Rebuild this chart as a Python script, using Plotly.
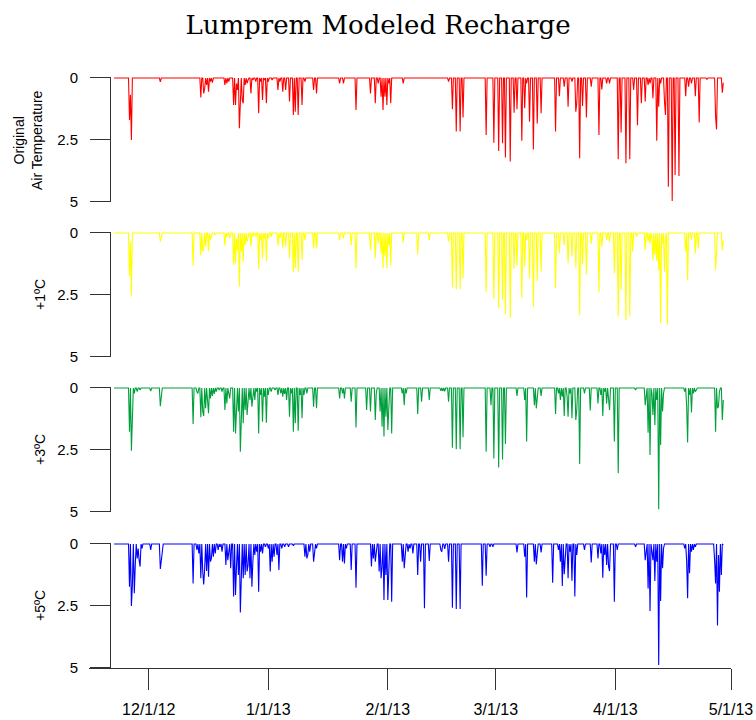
import plotly.graph_objects as go
from datetime import datetime, timedelta

# ---------------- data (day offsets from 2012-11-22, recharge values) ----------------
start_date = "2012-11-22"
end_day = 158

orig_days = [4.0, 4.25, 4.5, 12.0, 22.5, 23.25, 23.5, 24.0, 24.5, 25.0, 25.5, 28.75, 29.25, 29.75,
             31.0, 31.5, 31.75, 32.0, 32.5, 32.75, 33.25, 33.5, 34.0, 34.5, 34.75, 35.5, 36.0, 36.75,
             37.5, 38.0, 38.5, 39.0, 39.5, 40.0, 41.0, 42.5, 43.0, 43.75, 44.5, 45.5, 46.5, 47.0,
             47.75, 48.75, 49.5, 51.75, 52.5, 58.5, 59.5, 62.75, 66.5, 67.75, 68.5, 69.25, 69.75,
             70.25, 70.75, 71.25, 71.75, 75.0,
             86.75, 87.75, 88.75, 89.75, 90.5, 96.5, 98.5, 99.75, 100.75, 101.5, 102.75, 103.75,
             104.5, 105.75, 106.5, 107.0, 107.75, 108.75, 109.75, 110.75, 114.5, 115.5, 116.75,
             117.75, 118.75, 119.75, 120.0, 120.75, 121.5, 122.5, 123.75, 125.75, 126.5, 127.75,
             128.5, 130.75, 131.5, 132.75, 133.75, 134.75, 135.75, 136.75, 137.75, 138.5, 139.0,
             139.75, 140.75, 141.25, 141.75, 142.75, 143.0, 143.75, 144.75, 145.5, 146.5, 148.25,
             149.0, 149.75, 150.75, 151.75, 153.75, 156.0, 156.25, 157.75, 158.0]
orig_vals = [1.69, 0.68, 2.5, 0.16, 0.78, 0.62, 0.42, 0.28, 0.55, 0.15, 0.19, 0.28, 0.22, 0.15,
             1.09, 1.09, 0.22, 0.48, 2.03, 0.62, 0.89, 1.02, 0.28, 0.22, 0.08, 0.62, 0.08, 0.15,
             1.42, 0.15, 0.89, 0.08, 1.02, 0.15, 0.08, 0.48, 0.15, 0.55, 0.48, 0.95, 1.49, 1.36,
             1.49, 1.09, 0.15, 0.48, 0.62, 0.22, 0.22, 1.29, 0.62, 1.02, 0.22, 0.75, 1.29,
             0.75, 1.09, 0.22, 1.02, 0.22,
             0.15, 1.26, 2.16, 2.16, 1.59, 2.30, 2.61, 2.94, 2.63, 3.21, 3.37, 1.40,
             1.26, 2.53, 1.22, 0.22, 1.76, 2.88, 1.83, 1.42, 2.16, 0.73, 0.35,
             1.16, 0.15, 1.36, 1.02, 3.24, 1.13, 1.59, 0.35, 2.30, 0.46, 0.22,
             0.22, 3.28, 2.20, 3.44, 3.28, 0.48, 1.90, 1.02, 0.95, 0.28, 0.22,
             0.82, 2.53, 1.16, 0.22, 0.95, 1.49, 4.38, 4.96, 3.91, 3.95, 0.73,
             0.35, 0.22, 0.73, 1.79, 0.05, 1.56, 2.07, 0.59, 0.19]

p1_days = [4.0, 4.25, 4.5, 12.0, 12.25, 20.5, 22.5, 23.0, 23.25, 23.75, 24.5, 25.0, 25.25, 26.25,
           28.75, 29.25, 30.0, 31.0, 31.5, 31.75, 32.0, 32.5, 33.0, 33.5, 34.0, 34.5, 34.75, 35.5,
           36.0, 36.75, 37.5, 38.0, 38.5, 39.0, 39.5, 40.0, 40.75, 42.5, 43.0, 43.75, 44.5, 45.5,
           46.5, 47.0, 47.75, 48.75, 49.5, 51.75, 52.5, 58.5, 59.5, 61.5, 62.75, 66.5, 67.75, 68.5,
           69.25, 69.75, 70.25, 70.75, 71.25, 71.75, 75.0,
           78.75, 81.75, 86.75, 87.75, 88.75, 89.75, 90.5, 96.5, 98.5, 99.75, 100.75, 101.5,
           102.75, 103.75, 104.5, 105.75, 106.5, 107.0, 107.75, 108.75, 109.75, 110.75, 114.5,
           115.5, 116.75, 117.75, 118.75, 119.75, 120.75, 121.5, 122.5, 123.75, 125.75, 126.5,
           127.75, 128.5, 129.75, 130.75, 131.5, 132.75, 133.75, 134.5, 135.5, 137.75, 138.5,
           139.0, 139.5, 139.75, 140.25, 140.75, 141.25, 141.75, 142.25, 142.75, 143.0, 143.5,
           148.25, 148.75, 149.75, 150.75, 151.5, 156.0, 156.25, 157.75, 158.0]
p1_vals = [1.72, 0.35, 2.53, 0.35, 0.15, 1.32, 0.91, 0.75, 0.65, 0.55, 0.73, 0.28, 0.15, 0.08,
           0.51, 0.15, 0.22, 1.29, 1.22, 0.22, 0.69, 2.16, 0.75, 1.16, 0.48, 0.35, 0.22, 0.55,
           0.15, 0.15, 1.45, 0.28, 1.02, 0.22, 1.13, 0.22, 0.15, 0.51, 0.22, 0.59, 0.55, 1.02,
           1.59, 1.42, 1.56, 1.09, 0.28, 0.62, 0.62, 0.28, 0.22, 0.48, 1.42, 0.69, 1.02, 0.42,
           0.82, 1.42, 0.95, 1.42, 0.48, 1.29, 0.38,
           0.86, 0.28, 0.35, 2.20, 2.27, 2.27, 1.83, 2.37, 2.66, 3.04, 2.70, 3.28,
           3.44, 1.45, 1.32, 2.61, 1.36, 0.28, 1.83, 2.98, 1.94, 1.56, 2.23,
           0.82, 0.48, 1.22, 0.95, 1.40, 3.33, 1.26, 1.67, 0.44, 2.37, 0.55,
           0.28, 0.35, 1.63, 3.37, 2.30, 3.51, 3.37, 0.75, 0.15, 0.69, 0.35,
           0.42, 0.22, 1.09, 0.89, 1.13, 1.49, 3.64, 0.42, 1.56, 0.22, 3.71,
           0.75, 1.90, 0.28, 0.82, 0.62, 1.49, 0.89, 0.69, 0.30]

p3_days = [4.0, 4.5, 4.75, 5.25, 6.0, 6.75, 9.5, 12.0, 12.25, 20.5, 21.5, 21.75, 22.5, 23.0, 23.25,
           23.75, 24.25, 24.5, 25.0, 25.5, 26.0, 26.5, 27.25, 28.0, 28.75, 29.25, 29.75, 30.0,
           31.0, 31.5, 31.75, 32.25, 32.75, 33.0, 33.5, 34.0, 34.5, 34.75, 35.25, 35.75, 36.0,
           36.5, 37.0, 37.5, 38.0, 38.5, 39.0, 39.5, 40.0, 40.75, 41.75, 42.5, 43.25, 43.75,
           44.25, 44.75, 45.5, 46.0, 46.5, 47.0, 47.75, 48.25, 48.75, 49.25, 50.0, 51.75, 52.5,
           58.5, 59.25, 59.75, 61.5, 62.75, 65.5, 66.5, 67.75, 68.0, 69.0, 69.5, 70.0, 70.5,
           71.0, 71.25, 72.0, 74.75, 75.25, 75.75,
           78.75, 79.75, 81.75, 84.75, 85.25, 85.75, 86.75, 87.75, 88.75, 89.75, 90.5, 96.5,
           97.75, 98.5, 99.75, 100.75, 101.5, 104.5, 106.5, 107.0, 109.0, 109.5, 109.75, 110.75,
           114.5, 115.25, 115.75, 116.25, 116.75, 117.5, 117.75, 118.25, 118.75, 119.75, 120.0,
           120.75, 122.0, 123.5, 125.5, 126.25, 126.75, 127.25, 127.75, 128.25, 128.5, 129.75,
           130.75, 135.25, 137.75, 138.0, 138.5, 139.0, 139.5, 139.75, 140.25, 140.75, 141.25,
           141.75, 142.25, 142.5, 148.0, 148.5, 148.75, 149.25, 149.75, 150.25, 150.75, 151.0,
           156.0, 156.5, 156.75, 157.0, 157.75, 158.0]
p3_vals = [1.76, 2.53, 1.16, 0.22, 0.15, 0.08, 0.12, 0.73, 0.35, 1.45, 0.15, 0.22, 1.18, 0.95, 1.13,
           0.82, 0.75, 1.02, 0.42, 0.32, 0.24, 0.15, 0.08, 0.15, 0.89, 0.62, 0.22, 0.42,
           1.76, 1.83, 0.69, 0.95, 2.57, 1.02, 1.42, 0.89, 1.09, 0.69, 0.48, 0.75, 0.28,
           0.48, 0.15, 1.83, 0.28, 1.36, 0.35, 1.40, 0.28, 0.15, 0.08, 0.28, 0.22, 0.35,
           0.24, 0.48, 1.16, 0.22, 1.76, 1.42, 1.72, 0.28, 1.22, 0.28, 0.22, 0.75, 0.82,
           0.42, 0.22, 0.42, 0.55, 1.59, 0.89, 0.95, 1.29, 0.22, 0.95, 1.56, 1.96, 1.16,
           1.69, 0.48, 1.83, 0.22, 0.69, 0.22,
           1.05, 0.55, 0.48, 0.11, 0.12, 0.13, 0.55, 2.41, 2.47, 2.47, 1.99, 2.57,
           0.69, 2.84, 3.21, 2.88, 2.26, 0.32, 0.48, 2.16, 0.69, 0.82, 0.35, 0.32,
           1.05, 0.22, 0.48, 0.35, 1.13, 0.35, 1.16, 0.22, 1.22, 1.29, 0.89,
           3.06, 0.22, 0.91, 0.62, 0.28, 1.13, 0.15, 0.62, 0.55, 0.89, 2.16,
           3.44, 0.08, 0.69, 0.22, 1.80, 2.70, 0.22, 1.09, 1.49, 0.48, 4.89,
           2.30, 0.95, 0.22, 0.15, 0.75, 2.20, 0.28, 0.99, 0.22, 0.15, 0.08,
           1.76, 0.82, 0.75, 0.15, 1.29, 0.48]

p5_days = [4.0, 4.5, 4.75, 5.25, 5.5, 6.0, 6.25, 6.5, 6.75, 7.25, 9.5, 12.0, 12.25, 12.5, 20.5,
           21.5, 22.0, 22.5, 23.0, 23.25, 23.5, 24.0, 24.5, 25.0, 25.25, 25.75, 26.25, 27.0, 27.5,
           28.0, 29.0, 29.5, 29.75, 30.25, 31.0, 31.5, 31.75, 32.25, 32.75, 33.0, 33.5, 34.0,
           34.5, 34.75, 35.25, 35.75, 36.0, 36.5, 37.0, 37.5, 38.0, 38.5, 39.25, 40.0, 40.5,
           41.0, 41.5, 42.25, 42.75, 43.5, 44.25, 45.25, 46.5, 49.5, 50.0, 50.25, 50.75, 51.75,
           52.0, 52.5, 58.5, 59.25, 59.75, 60.25, 61.5, 62.75, 66.75, 67.25, 67.75, 68.0, 68.75,
           69.25, 69.5, 70.0, 70.5, 71.0, 71.25, 72.0, 74.75, 75.25, 75.5, 76.25, 76.75,
           77.5, 78.75, 79.5, 80.5, 81.75, 84.75, 85.0, 85.75, 86.75, 87.75, 88.75, 89.75,
           95.5, 96.5, 97.5, 98.25, 104.5, 106.5, 107.0, 109.0, 109.5, 109.75, 110.75, 113.75,
           115.25, 115.75, 116.25, 116.75, 117.0, 117.75, 118.25, 118.75, 119.5, 120.0, 122.0,
           123.75, 125.5, 126.25, 126.75, 127.25, 127.75, 128.25, 128.5, 129.75, 130.5, 135.25,
           137.75, 138.0, 138.5, 139.0, 139.5, 139.75, 140.25, 140.75, 141.25, 141.75, 142.25,
           142.5, 148.0, 148.5, 148.75, 149.25, 149.75, 150.25, 150.75, 155.75, 156.0, 156.5,
           156.75, 157.0, 157.5, 158.0]
p5_vals = [1.72, 2.50, 1.65, 1.99, 0.85, 0.58, 0.18, 0.65, 0.91, 0.18, 0.24, 1.01, 0.58, 0.18, 1.59,
           0.24, 0.38, 1.38, 1.11, 1.63, 0.98, 1.09, 1.32, 0.71, 0.58, 0.51, 0.38, 0.24, 0.11,
           0.31, 0.85, 0.65, 0.31, 0.98, 2.12, 2.06, 0.91, 1.25, 2.76, 1.11, 1.38, 1.25,
           1.11, 0.85, 1.38, 1.72, 0.71, 0.44, 0.31, 1.92, 0.31, 0.38, 0.11, 0.18, 1.11,
           0.71, 0.51, 0.44, 1.05, 0.18, 0.11, 0.11, 0.07, 0.51, 0.58, 0.44, 0.31, 0.71,
           0.31, 0.18, 0.65, 0.71, 0.78, 0.18, 1.05, 1.76, 0.91, 0.58, 0.71, 0.38, 1.11,
           1.38, 0.91, 2.26, 1.25, 2.26, 0.78, 2.33, 0.71, 0.98, 0.51, 0.31, 0.18,
           0.38, 1.25, 0.71, 2.59, 0.68, 0.24, 0.31, 0.20, 0.71, 2.57, 2.62, 2.62,
           1.68, 1.28, 0.11, 0.11, 0.34, 0.51, 2.16, 0.71, 0.82, 0.31, 0.34, 1.56,
           0.24, 0.71, 1.69, 1.22, 0.44, 1.38, 0.31, 1.48, 2.12, 0.44, 0.24,
           0.74, 0.58, 0.38, 1.36, 0.44, 0.85, 0.91, 1.09, 2.33, 0.24, 0.11,
           0.65, 0.24, 1.79, 2.70, 0.31, 0.65, 1.49, 0.71, 4.88, 2.30, 0.98,
           0.18, 0.18, 0.71, 2.19, 1.18, 0.31, 0.24, 0.11, 0.65, 1.59, 3.29,
           0.44, 1.92, 1.25, 0.04]

tick_vals_x = ["2012-12-01", "2013-01-01", "2013-02-01", "2013-03-01", "2013-04-01", "2013-05-01"]
tick_text_x = ["12/1/12", "1/1/13", "2/1/13", "3/1/13", "4/1/13", "5/1/13"]
tick_vals_y = [0, 2.5, 5]
tick_text_y = ["0", "2.5", "5"]

panel_labels = ["Original<br>Air Temperature", "+1ºC", "+3ºC", "+5ºC"]
series = [(orig_days, orig_vals), (p1_days, p1_vals), (p3_days, p3_vals), (p5_days, p5_vals)]
colors = ["#FF0000", "#FFFF00", "#00A03C", "#0000FF"]
title_text = "Lumprem Modeled Recharge"

# ---------------- build 6-hourly series ----------------
steps_per_day = 4
t0 = datetime.strptime(start_date, "%Y-%m-%d")
n = end_day * steps_per_day + 1
times = [t0 + timedelta(hours=6 * i) for i in range(n)]


def build(days, vals):
    y = [0.0] * n
    for d, v in zip(days, vals):
        i = int(round(d * steps_per_day))
        if 0 <= i < n:
            y[i] = max(y[i], v)
    return y


W, H = 756, 720
# panel pixel extents (top, bottom) for the 0..5 scale
panels_px = [(78, 202), (233, 357), (388, 512), (544, 668)]
pad_val = 0.04
px_per_unit = 124 / 5.0

fig = go.Figure()
for k, ((days, vals), col) in enumerate(zip(series, colors)):
    yname = "y" if k == 0 else f"y{k+1}"
    fig.add_trace(go.Scatter(x=times, y=build(days, vals), mode="lines",
                             line=dict(color=col, width=1.1), xaxis="x", yaxis=yname,
                             showlegend=False, hoverinfo="x+y"))

layout = dict(
    width=W, height=H, margin=dict(l=0, r=0, t=0, b=0, autoexpand=False),
    paper_bgcolor="white", plot_bgcolor="white",
    showlegend=False,
    title=dict(text=title_text, x=0.5, xanchor="center", y=1 - 25 / H, yanchor="middle",
               font=dict(family="DejaVu Serif", size=26, color="black")),
    xaxis=dict(domain=[89 / W, 731 / W], range=["2012-11-15 12:00", "2013-05-01"],
               anchor="y4", automargin=False, showgrid=False, zeroline=False, showline=True,
               linecolor="#333", linewidth=1, ticks="outside", ticklen=21, tickwidth=1,
               tickcolor="#333", tickvals=tick_vals_x, ticktext=tick_text_x,
               tickfont=dict(family="Liberation Sans", size=16, color="black"),
               ticklabelstandoff=6),
)
annotations = []
for k, (top, bot) in enumerate(panels_px):
    key = "yaxis" if k == 0 else f"yaxis{k+1}"
    top_ext = top - pad_val * px_per_unit
    layout[key] = dict(
        domain=[1 - bot / H, 1 - top_ext / H], range=[5, -pad_val],
        anchor="free", position=110 / W, automargin=False,
        showgrid=False, zeroline=False, showline=True, linecolor="#333", linewidth=1,
        ticks="outside", ticklen=20, tickwidth=1, tickcolor="#333",
        tickvals=tick_vals_y, ticktext=tick_text_y,
        tickfont=dict(family="Liberation Sans", size=15, color="black"),
        ticklabelstandoff=9,
    )
    cx = 28 if k == 0 else 40
    annotations.append(dict(text=panel_labels[k], x=cx / W, y=1 - ((top + bot) / 2) / H,
                            xref="paper", yref="paper", showarrow=False, textangle=-90,
                            xanchor="center", yanchor="middle",
                            font=dict(family="Liberation Sans", size=14, color="black")))
layout["annotations"] = annotations
fig.update_layout(**layout)
fig.write_html("out.html")
